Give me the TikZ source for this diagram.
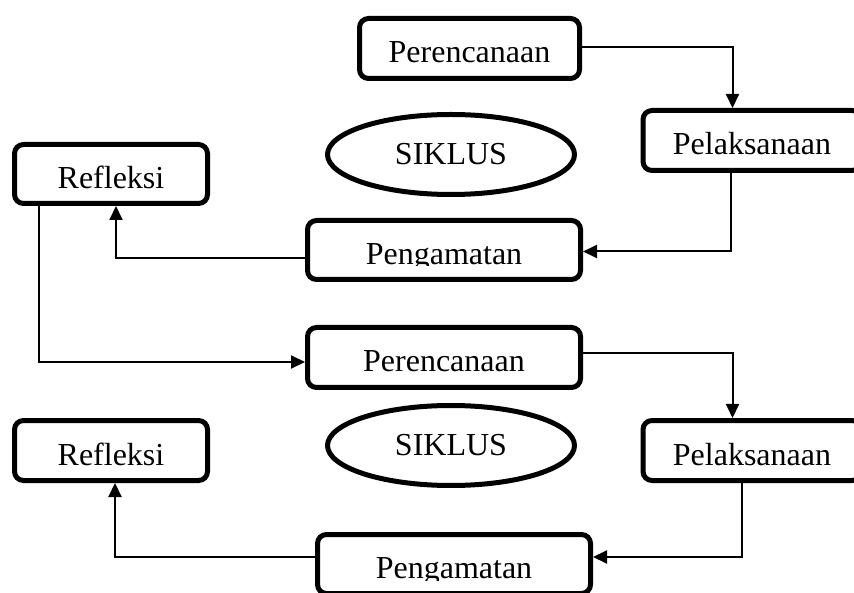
\documentclass[tikz,border=0pt]{standalone}
\usepackage{fontspec}
\setmainfont{Liberation Serif}
\usetikzlibrary{shapes.geometric,arrows.meta,calc}
\begin{document}
\begin{tikzpicture}[x=1pt,y=-1pt,
  txt/.style={font=\fontsize{32}{38}\selectfont},
  box/.style={txt,draw,line width=5pt,rounded corners=9pt,inner sep=0pt,
    minimum height=60pt,text height=29pt,text depth=0pt},
  ell/.style={txt,draw,ellipse,line width=5pt,minimum width=247pt,
    minimum height=80pt,inner sep=0pt},
  lbl/.style={txt,inner sep=0pt,text height=29pt,text depth=0pt},
  conn/.style={line width=2pt,-{Triangle[length=14pt,width=13pt]}}]
\useasboundingbox (0,0) rectangle (854,593);

% first cycle
\node[box,minimum width=220pt] (per1) at (469.5,48.5) {Perencanaan};
\node[box,minimum width=218pt] (pel1) at (752,140.5) {Pelaksanaan};
\node[ell] (ell1) at (451,154.5) {SIKLUS};
\node[box,minimum width=193pt,minimum height=59pt] (ref1) at (111,174) {Refleksi};
\node[box,minimum width=273pt,minimum height=59pt] (peng1) at (444,250) {};
\begin{scope}
  \clip (300,200) rectangle (600,266);
  \node[lbl] (peng1t) at (444,250) {Pengamatan};
\end{scope}

% second cycle
\node[box,minimum width=273pt] (per2) at (444,357.5) {Perencanaan};
\node[box,minimum width=218pt] (pel2) at (752,450.5) {Pelaksanaan};
\node[ell] (ell2) at (451,445.5) {SIKLUS};
\node[box,minimum width=193pt] (ref2) at (111,450.5) {Refleksi};
\node[box,minimum width=273pt,minimum height=59pt] (peng2) at (454,564) {};
\begin{scope}
  \clip (310,520) rectangle (600,580);
  \node[lbl] (peng2t) at (454,564) {Pengamatan};
\end{scope}

% connectors
\draw[conn] ([yshift=1.5pt]per1.east) -| ([xshift=92pt]pel1.north west);
\draw[conn] ([xshift=90pt]pel1.south west) |- ([yshift=-1.5pt]peng1.east);
\draw[conn] ([yshift=-8pt]peng1.west) -| ([xshift=104pt]ref1.south west);
\draw[conn] ([xshift=27pt]ref1.south west) |- ([yshift=-4.5pt]per2.west);
\draw[conn] ([yshift=4.5pt]per2.east) -| ([xshift=92pt]pel2.north west);
\draw[conn] ([xshift=101pt]pel2.south west) |- ([yshift=7pt]peng2.east);
\draw[conn] ([yshift=7pt]peng2.west) -| ([xshift=103pt]ref2.south west);
\end{tikzpicture}
\end{document}
